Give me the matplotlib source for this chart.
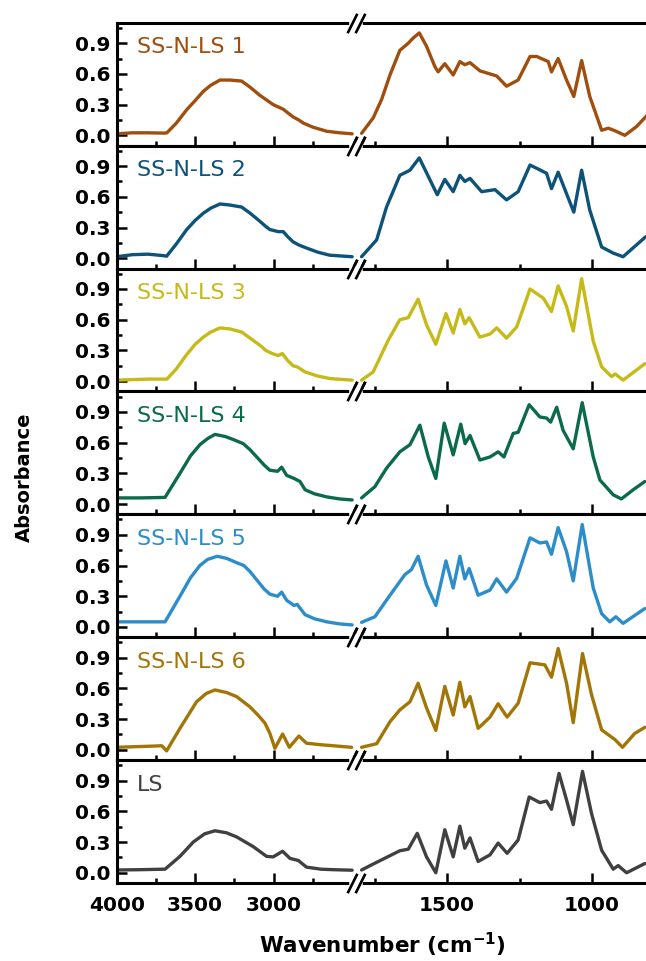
import numpy as np
import matplotlib
matplotlib.use('Agg')
import matplotlib.pyplot as plt
import matplotlib.transforms as mtransforms

plt.rcParams['font.family'] = ['DejaVu Sans']
plt.rcParams['mathtext.default'] = 'bf'

labels = ['SS-N-LS 1', 'SS-N-LS 2', 'SS-N-LS 3', 'SS-N-LS 4', 'SS-N-LS 5', 'SS-N-LS 6', 'LS']
colors = ['#A04E0E', '#0C5279', '#C6BA18', '#0B6A4B', '#2B8DC9', '#A27507', '#404040']

x_major = [4000, 3500, 3000, 1500, 1000]
x_minor = [3750, 3250, 2750, 1750, 1250]
y_major = [0.0, 0.3, 0.6, 0.9]
y_minor = [0.15, 0.45, 0.75, 1.05]

# ---- high wavenumber part (4000-2500) ----
hi_wn_1 = [4000, 3900, 3800, 3700, 3680, 3620, 3554, 3500, 3448, 3400, 3342, 3280, 3204, 3150, 3087, 3040,
           3003, 2960, 2939, 2910, 2876, 2840, 2811, 2750, 2662, 2580, 2500]
hi_abs_1 = [0.015, 0.025, 0.025, 0.022, 0.025, 0.12, 0.25, 0.34, 0.43, 0.49, 0.54, 0.54, 0.53, 0.47, 0.39, 0.34,
            0.30, 0.27, 0.255, 0.22, 0.18, 0.15, 0.12, 0.08, 0.04, 0.025, 0.015]
hi_wn_2 = [4000, 3900, 3800, 3700, 3682, 3620, 3554, 3500, 3448, 3400, 3342, 3280, 3204, 3150, 3087, 3050,
           3024, 2970, 2939, 2910, 2876, 2840, 2791, 2720, 2643, 2500]
hi_abs_2 = [0.015, 0.035, 0.04, 0.025, 0.02, 0.14, 0.28, 0.37, 0.44, 0.49, 0.53, 0.52, 0.50, 0.44, 0.36, 0.31,
            0.28, 0.26, 0.26, 0.21, 0.16, 0.13, 0.10, 0.06, 0.03, 0.015]
hi_wn_3 = [4000, 3800, 3700, 3680, 3620, 3554, 3500, 3448, 3400, 3342, 3280, 3204, 3150, 3087, 3050, 3010,
           2970, 2945, 2910, 2876, 2850, 2800, 2720, 2640, 2500]
hi_abs_3 = [0.01, 0.02, 0.02, 0.02, 0.12, 0.26, 0.36, 0.43, 0.48, 0.52, 0.51, 0.48, 0.42, 0.35, 0.30, 0.27,
            0.25, 0.27, 0.20, 0.15, 0.14, 0.09, 0.05, 0.025, 0.01]
hi_wn_4 = [4000, 3850, 3692, 3597, 3530, 3470, 3420, 3374, 3310, 3257, 3194, 3150, 3108, 3060, 3024, 2975,
           2949, 2917, 2870, 2832, 2800, 2740, 2662, 2580, 2500]
hi_abs_4 = [0.06, 0.06, 0.065, 0.30, 0.47, 0.58, 0.64, 0.68, 0.66, 0.63, 0.59, 0.53, 0.46, 0.38, 0.33, 0.32,
            0.36, 0.28, 0.25, 0.22, 0.14, 0.10, 0.07, 0.05, 0.04]
hi_wn_5 = [4000, 3850, 3692, 3597, 3530, 3470, 3420, 3360, 3300, 3240, 3190, 3150, 3108, 3060, 3024, 2975,
           2949, 2917, 2870, 2850, 2800, 2740, 2662, 2580, 2500]
hi_abs_5 = [0.05, 0.05, 0.05, 0.30, 0.48, 0.60, 0.66, 0.69, 0.67, 0.63, 0.60, 0.54, 0.46, 0.37, 0.32, 0.30,
            0.34, 0.26, 0.21, 0.22, 0.12, 0.08, 0.05, 0.03, 0.02]
hi_wn_6 = [4000, 3800, 3713, 3682, 3597, 3491, 3430, 3374, 3300, 3236, 3151, 3100, 3055, 3024, 2992, 2943,
           2900, 2839, 2791, 2700, 2620, 2503]
hi_abs_6 = [0.025, 0.035, 0.04, -0.01, 0.21, 0.47, 0.55, 0.585, 0.56, 0.52, 0.42, 0.34, 0.26, 0.16, 0.015, 0.155,
            0.025, 0.135, 0.065, 0.05, 0.04, 0.025]
hi_wn_7 = [4000, 3850, 3692, 3597, 3512, 3440, 3374, 3300, 3236, 3130, 3045, 3003, 2943, 2896, 2843, 2791,
           2700, 2620, 2500]
hi_abs_7 = [0.027, 0.03, 0.035, 0.16, 0.30, 0.38, 0.41, 0.39, 0.35, 0.255, 0.16, 0.155, 0.21, 0.14, 0.12, 0.055,
            0.035, 0.03, 0.025]

# ---- fingerprint part (1800-800) ----
lo_wn_1 = [1795, 1755, 1726, 1697, 1663, 1634, 1617, 1596, 1571, 1542, 1531, 1508, 1479, 1456, 1439, 1421,
           1387, 1329, 1295, 1255, 1214, 1191, 1151, 1140, 1117, 1088, 1063, 1036, 1008, 967, 944, 921,
           887, 847, 812]
lo_abs_1 = [0.02, 0.17, 0.35, 0.59, 0.83, 0.90, 0.95, 1.00, 0.87, 0.67, 0.62, 0.70, 0.59, 0.72, 0.69, 0.71,
            0.63, 0.58, 0.48, 0.54, 0.77, 0.77, 0.72, 0.62, 0.75, 0.54, 0.38, 0.73, 0.38, 0.05, 0.07, 0.045,
            0.0, 0.085, 0.19]
lo_wn_2 = [1795, 1743, 1709, 1663, 1628, 1596, 1565, 1534, 1508, 1479, 1456, 1439, 1421, 1381, 1335, 1295,
           1255, 1214, 1185, 1157, 1140, 1117, 1088, 1063, 1036, 1008, 967, 927, 893, 815]
lo_abs_2 = [0.015, 0.18, 0.50, 0.81, 0.86, 0.98, 0.80, 0.62, 0.77, 0.65, 0.81, 0.75, 0.78, 0.65, 0.67, 0.57,
            0.65, 0.91, 0.87, 0.83, 0.68, 0.84, 0.63, 0.45, 0.86, 0.47, 0.11, 0.05, 0.015, 0.21]
lo_wn_3 = [1795, 1755, 1703, 1663, 1634, 1600, 1571, 1539, 1504, 1479, 1456, 1439, 1424, 1387, 1352, 1329,
           1295, 1260, 1214, 1168, 1140, 1117, 1088, 1065, 1036, 996, 967, 933, 920, 893, 818]
lo_abs_3 = [0.01, 0.09, 0.40, 0.60, 0.62, 0.80, 0.55, 0.36, 0.66, 0.47, 0.70, 0.56, 0.62, 0.43, 0.46, 0.52,
            0.42, 0.53, 0.90, 0.81, 0.68, 0.93, 0.73, 0.49, 1.00, 0.39, 0.14, 0.045, 0.07, 0.01, 0.17]
lo_wn_4 = [1795, 1749, 1709, 1663, 1628, 1594, 1565, 1539, 1510, 1479, 1453, 1438, 1421, 1387, 1352, 1324,
           1304, 1272, 1255, 1217, 1180, 1157, 1143, 1122, 1100, 1065, 1034, 996, 973, 927, 899, 858, 818]
lo_abs_4 = [0.06, 0.17, 0.35, 0.51, 0.58, 0.77, 0.46, 0.25, 0.79, 0.48, 0.78, 0.59, 0.67, 0.43, 0.46, 0.51,
            0.46, 0.69, 0.70, 0.97, 0.85, 0.84, 0.80, 0.945, 0.72, 0.54, 0.99, 0.46, 0.235, 0.09, 0.05, 0.14, 0.22]
lo_wn_5 = [1795, 1749, 1697, 1646, 1623, 1600, 1571, 1539, 1504, 1479, 1456, 1439, 1424, 1393, 1352, 1329,
           1295, 1260, 1214, 1180, 1157, 1140, 1117, 1088, 1065, 1034, 996, 967, 939, 918, 893, 818]
lo_abs_5 = [0.045, 0.10, 0.31, 0.51, 0.56, 0.69, 0.41, 0.21, 0.645, 0.38, 0.69, 0.47, 0.57, 0.31, 0.36, 0.47,
            0.34, 0.475, 0.87, 0.82, 0.83, 0.71, 0.97, 0.735, 0.45, 1.00, 0.38, 0.13, 0.05, 0.10, 0.035, 0.18]
lo_wn_6 = [1795, 1743, 1697, 1663, 1628, 1600, 1571, 1539, 1508, 1479, 1456, 1439, 1421, 1393, 1352, 1324,
           1293, 1255, 1214, 1163, 1140, 1117, 1088, 1065, 1033, 1002, 967, 921, 895, 853, 818]
lo_abs_6 = [0.025, 0.06, 0.275, 0.39, 0.47, 0.65, 0.41, 0.19, 0.62, 0.34, 0.66, 0.42, 0.52, 0.21, 0.32, 0.45,
            0.32, 0.455, 0.85, 0.83, 0.71, 0.99, 0.65, 0.265, 0.94, 0.54, 0.195, 0.10, 0.025, 0.16, 0.22]
lo_wn_7 = [1795, 1755, 1709, 1663, 1634, 1603, 1571, 1539, 1508, 1479, 1456, 1439, 1421, 1393, 1352, 1324,
           1293, 1255, 1217, 1180, 1157, 1140, 1114, 1088, 1065, 1033, 1002, 967, 927, 910, 881, 818]
lo_abs_7 = [0.027, 0.085, 0.15, 0.215, 0.23, 0.385, 0.155, 0.0, 0.42, 0.155, 0.455, 0.24, 0.34, 0.11, 0.175, 0.29,
            0.19, 0.32, 0.74, 0.685, 0.70, 0.62, 0.97, 0.71, 0.47, 0.99, 0.58, 0.22, 0.035, 0.07, 0.0, 0.09]

hi_wn = [hi_wn_1, hi_wn_2, hi_wn_3, hi_wn_4, hi_wn_5, hi_wn_6, hi_wn_7]
hi_abs = [hi_abs_1, hi_abs_2, hi_abs_3, hi_abs_4, hi_abs_5, hi_abs_6, hi_abs_7]
lo_wn = [lo_wn_1, lo_wn_2, lo_wn_3, lo_wn_4, lo_wn_5, lo_wn_6, lo_wn_7]
lo_abs = [lo_abs_1, lo_abs_2, lo_abs_3, lo_abs_4, lo_abs_5, lo_abs_6, lo_abs_7]

# broken x scale: 4000-2500 compressed, 2500-1800 squeezed into the break, 1800-800 stretched
# (increasing function of wavenumber; axis is then inverted with set_xlim)
seg_wn = [800, 1800, 2500, 4000]
seg_pos = [-533.5, -243.5, -235.5, 0]


def fwd(w):
    return np.interp(np.asarray(w, dtype=float), seg_wn, seg_pos)


def inv(p):
    return np.interp(np.asarray(p, dtype=float), seg_pos, seg_wn)


W, H = 646, 961
fig = plt.figure(figsize=(W / 100, H / 100), dpi=100)

left_px = 116.7
top_px = 22.7
panel_h = 122.9

axes = []
for i in range(7):
    bottom = 1 - (top_px + panel_h * (i + 1)) / H
    ax = fig.add_axes([left_px / W, bottom, 1 - left_px / W, panel_h / H])
    ax.set_xscale('function', functions=(fwd, inv))
    ax.set_xlim(4000, 814)
    ax.set_ylim(-0.1, 1.1)

    ax.plot(hi_wn[i], hi_abs[i], color=colors[i], lw=2.4, solid_joinstyle='round', solid_capstyle='round')
    ax.plot(lo_wn[i], lo_abs[i], color=colors[i], lw=2.4, solid_joinstyle='round', solid_capstyle='round')

    ax.text(0.038, 0.75, labels[i], transform=ax.transAxes, color=colors[i], fontsize=16, va='baseline')

    ax.set_xticks(x_major)
    ax.set_xticks(x_minor, minor=True)
    ax.set_yticks(y_major)
    ax.set_yticks(y_minor, minor=True)
    ax.set_yticklabels(['%.1f' % v for v in y_major], fontsize=14.5, fontweight='bold')
    if i == 6:
        ax.set_xticklabels([str(v) for v in x_major], fontsize=14.5, fontweight='bold')
    else:
        ax.set_xticklabels([])

    ax.tick_params(axis='both', which='both', direction='in', top=False, right=False, width=1.8)
    ax.tick_params(axis='both', which='major', length=7)
    ax.tick_params(axis='both', which='minor', length=3.8)
    ax.tick_params(axis='y', which='major', pad=4.5)
    ax.tick_params(axis='x', which='major', pad=9)

    for s in ['left', 'top', 'bottom']:
        ax.spines[s].set_linewidth(2.2)
    ax.spines['right'].set_visible(False)
    axes.append(ax)

# break marks "//" on every horizontal spine
for ax in axes:
    tr = mtransforms.blended_transform_factory(ax.transData, ax.transAxes)
    for yy in [0, 1]:
        ax.plot([2500, 1800], [yy, yy], color='white', lw=4, transform=tr, clip_on=False, zorder=5)
        ax.plot([2500, 1800], [yy, yy], ls='none', marker=[(-0.5, -1), (0.5, 1)], markersize=14,
                mew=1.9, mec='black', transform=tr, clip_on=False, zorder=6)

fig.text(24 / W, 1 - 477 / H, 'Absorbance', rotation=90, fontsize=14, fontweight='bold',
         ha='center', va='center')
fig.text(382 / W, 1 - 953 / H, 'Wavenumber (cm$^{-1}$)', fontsize=15.5, fontweight='bold',
         ha='center', va='baseline')

fig.savefig('out.png', dpi=100)
